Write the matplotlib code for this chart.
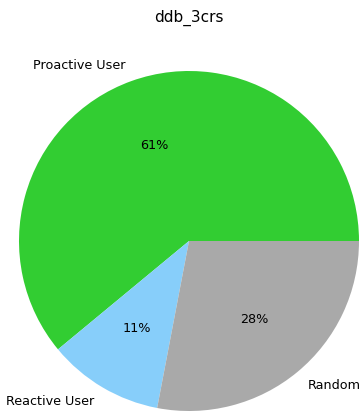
import matplotlib
matplotlib.use('Agg')
import matplotlib.pyplot as plt

labels = ['Proactive User', 'Reactive User', 'Random']
shares = [61, 11, 28]
colors = ['limegreen', 'lightskyblue', 'darkgray']

W, H = 364, 413
fig = plt.figure(figsize=(W / 100, H / 100), dpi=100)
# pie centre ~ (189, 241) px from top-left, radius ~170 px
ax = fig.add_axes([19 / W, 2 / H, 340 / W, 340 / H])
ax.pie(shares, labels=labels, colors=colors, autopct='%1.0f%%',
       textprops={'fontsize': 9.2})
ax.set_xlim(-1, 1)
ax.set_ylim(-1, 1)
ax.set_aspect('equal')
ax.axis('off')
fig.text(189 / W, 1 - 18 / H, 'ddb_3crs', ha='center', va='center', fontsize=11)
plt.savefig('out.png')
